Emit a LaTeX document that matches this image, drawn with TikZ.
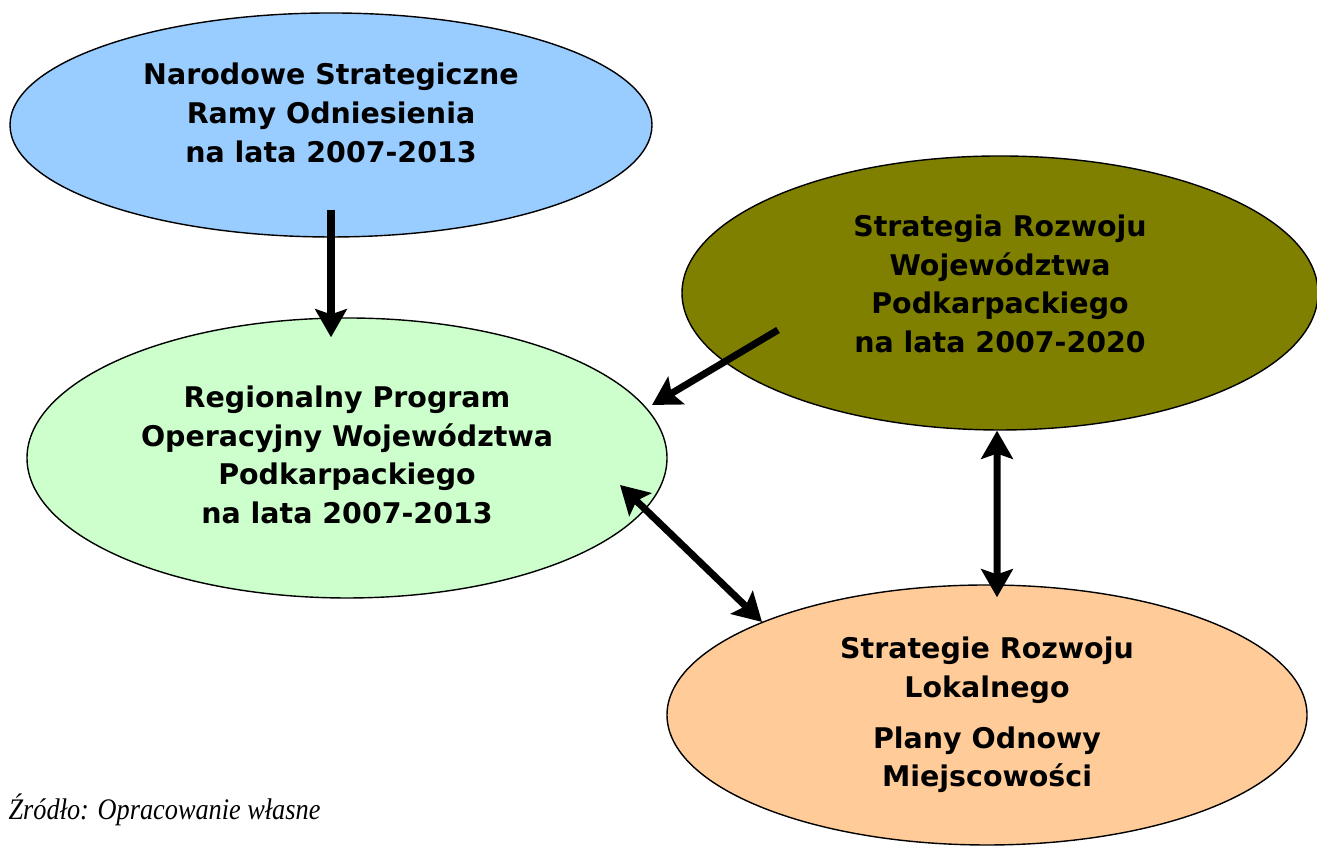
\documentclass[tikz,border=0pt]{standalone}
\usepackage{fontspec}
\setmainfont{Liberation Serif}
\newfontfamily\boxfont{DejaVu Sans}
\usepackage{xcolor}
\usetikzlibrary{shapes.geometric, arrows.meta, calc}

\definecolor{nsrblue}{RGB}{153,204,255}
\definecolor{rpogreen}{RGB}{204,255,204}
\definecolor{srwolive}{RGB}{128,128,0}
\definecolor{srlorange}{RGB}{255,204,153}

\tikzset{
    plan/.style={ellipse, draw, thin, inner sep=0pt},
    plantext/.style={inner sep=0pt, align=center, font=\boxfont\bfseries\fontsize{8.1}{11}\selectfont},
    link/.style={line width=2pt, -{Stealth[length=8pt, width=9pt, inset=1.5pt]}},
    twolink/.style={line width=2pt, {Stealth[length=8pt, width=9pt, inset=1.5pt]}-{Stealth[length=8pt, width=9pt, inset=1.5pt]}}
}

\begin{document}
\begin{tikzpicture}
    \useasboundingbox (0, 0) rectangle (13.17, 8.47);

    \node[plan, fill=nsrblue, minimum width=6.42cm, minimum height=2.24cm,
        label={[plantext, yshift=0.12cm]center:{Narodowe Strategiczne\\Ramy Odniesienia\\na lata 2007-2013}}] (nsro) at (3.31, 7.22) {};
    \node[plan, fill=rpogreen, minimum width=6.40cm, minimum height=2.80cm,
        label={[plantext, yshift=0.03cm]center:{Regionalny Program\\Operacyjny Województwa\\Podkarpackiego\\na lata 2007-2013}}] (rpo) at (3.47, 3.89) {};
    \node[plan, fill=srwolive, minimum width=6.36cm, minimum height=2.74cm,
        label={[plantext, yshift=0.09cm]center:{Strategia Rozwoju\\Województwa\\Podkarpackiego\\na lata 2007-2020}}] (srw) at (10.00, 5.54) {};
    \node[plan, fill=srlorange, minimum width=6.40cm, minimum height=2.60cm,
        label={[plantext]center:{Strategie Rozwoju\\Lokalnego\\[3.4pt]Plany Odnowy\\Miejscowości}}] (srl) at (9.87, 1.32) {};

    \draw[link] ($(nsro.south) + (0, 0.28)$) -- ($(nsro.south |- rpo.north) + (0, -0.2)$);
    \draw[link] ($(srw.center) + (-2.22, -0.37)$) -- ($(rpo.center) + (3.05, 0.53)$);
    \draw[twolink] ($(rpo.center) + (2.73, -0.27)$) -- ($(srl.center) + (-2.25, 0.93)$);
    \draw[twolink] ($(srw.south) + (-0.03, 0)$) -- ($(srl.north) + (0.10, -0.13)$);

    \node[anchor=base west, inner sep=0pt, xscale=0.88, transform shape, font=\itshape\fontsize{8.5}{10}\selectfont] (zrodlo) at (0.08, 0.27) {Źródło: Opracowanie własne};
\end{tikzpicture}
\end{document}
